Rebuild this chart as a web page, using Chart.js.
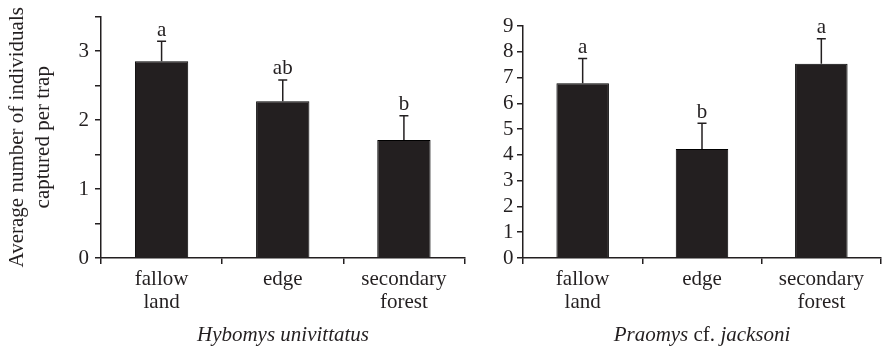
<!DOCTYPE html>
<html><head><meta charset="utf-8">
<script src="https://cdn.jsdelivr.net/npm/chart.js@4"></script>
<style>
html,body{margin:0;padding:0;background:#fff;}
#wrap{position:relative;width:882px;height:348px;overflow:hidden;background:#fff;}
.species{position:absolute;top:324px;height:24px;line-height:21px;font-family:"Liberation Serif",serif;font-size:21px;font-style:italic;color:#231f20;text-align:center;white-space:nowrap;}
</style></head><body>
<div id="wrap">
<canvas id="c1" width="470" height="348" style="position:absolute;left:0;top:0;"></canvas>
<canvas id="c2" width="441" height="348" style="position:absolute;left:441px;top:0;"></canvas>
<div class="species" style="left:163px;width:240px;">Hybomys univittatus</div>
<div class="species" style="left:582px;width:240px;">Praomys <span style="font-style:normal">cf.</span> jacksoni</div>
</div>
<script>
const categories = [['fallow','land'], ['edge'], ['secondary','forest']];
const hybomysMeans = [2.85, 2.27, 1.71];
const hybomysSE = [0.29, 0.31, 0.35];
const hybomysLetters = ['a', 'ab', 'b'];
const praomysMeans = [6.78, 4.23, 7.54];
const praomysSE = [0.96, 1.00, 0.97];
const praomysLetters = ['a', 'b', 'a'];
const yTitle = ['Average number of individuals', 'captured per trap'];

const INK = '#231f20';
const FAMILY = '"Liberation Serif", "Times New Roman", serif';

const errLetters = {
  id: 'errLetters',
  afterDatasetsDraw(chart, args, opts) {
    const {ctx, scales: {x, y}} = chart;
    const means = chart.data.datasets[0].data;
    ctx.save();
    ctx.strokeStyle = INK; ctx.lineWidth = 1.5;
    ctx.fillStyle = INK;
    ctx.font = '21px ' + FAMILY;
    ctx.textAlign = 'center'; ctx.textBaseline = 'alphabetic';
    means.forEach((m, i) => {
      const px = x.getPixelForValue(i);
      const yb = y.getPixelForValue(m);
      const yt = y.getPixelForValue(m + opts.se[i]);
      ctx.beginPath();
      ctx.moveTo(px, yb); ctx.lineTo(px, yt);
      ctx.moveTo(px - 4.5, yt); ctx.lineTo(px + 4.5, yt);
      ctx.stroke();
      ctx.fillText(opts.letters[i], px, yt - 5.5);
    });
    ctx.restore();
  }
};

function makeChart(id, means, se, letters, cfg) {
  return new Chart(document.getElementById(id), {
    type: 'bar',
    data: {
      labels: categories,
      datasets: [{
        data: means,
        backgroundColor: INK,
        borderColor: '#000',
        borderWidth: 1,
        barPercentage: 0.44,
        categoryPercentage: 1.0
      }]
    },
    plugins: [errLetters],
    options: {
      responsive: false,
      animation: false,
      layout: {padding: cfg.padding},
      plugins: {
        legend: {display: false},
        tooltip: {enabled: false},
        errLetters: {se: se, letters: letters}
      },
      scales: {
        x: {
          offset: true,
          grid: {drawOnChartArea: false, drawTicks: true, tickLength: 6, color: INK, lineWidth: 1.5, offset: true},
          border: {display: true, color: INK, width: 1.5},
          ticks: {color: INK, font: {family: FAMILY, size: 21, lineHeight: 1.1}, padding: 4, maxRotation: 0, autoSkip: false},
          afterFit(s) { s.height = 90; }
        },
        y: {
          min: 0, max: cfg.max,
          grid: {drawOnChartArea: false, drawTicks: true, tickLength: 6, color: INK, lineWidth: 1.5},
          border: {display: true, color: INK, width: 1.5},
          ticks: {
            stepSize: cfg.step, color: INK, padding: cfg.tickPad, autoSkip: false,
            font: {family: FAMILY, size: 21, lineHeight: 1.0},
            callback: v => Number.isInteger(v) ? String(v) : ''
          },
          title: cfg.title ? {display: true, text: cfg.title, color: INK, font: {family: FAMILY, size: 21, lineHeight: 1.25}, padding: {top: 4, bottom: 0}} : {display: false},
          afterFit(s) { s.width = cfg.yWidth; }
        }
      }
    }
  });
}

makeChart('c1', hybomysMeans, hybomysSE, hybomysLetters,
  {padding: {left: 0, top: 15, right: 5.5, bottom: 0}, max: 3.5, step: 0.5, tickPad: 6, yWidth: 101, title: yTitle});
makeChart('c2', praomysMeans, praomysSE, praomysLetters,
  {padding: {left: 0, top: 26, right: 1, bottom: 0}, max: 9, step: 1, tickPad: 3.5, yWidth: 82, title: null});
</script>
</body></html>
